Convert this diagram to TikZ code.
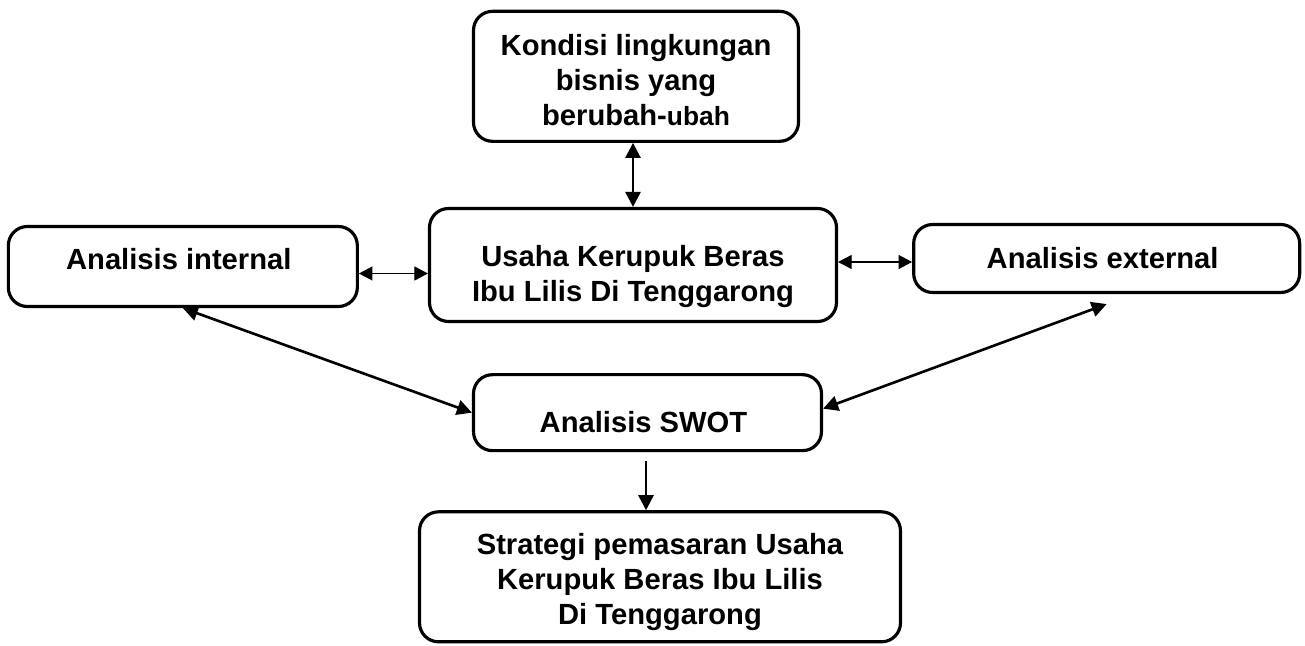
\documentclass[tikz,border=0pt]{standalone}
\usepackage{fontspec}
\setmainfont{Liberation Sans}
\usetikzlibrary{positioning, arrows.meta}

\begin{document}
\begin{tikzpicture}[ node distance=1.2cm and 1.4cm, box/.style={ rectangle, draw, line width=1.8pt, rounded corners=0.38cm, align=center, inner sep=2pt, font=\bfseries\fontsize{16.6}{20}\selectfont }, arrow/.style={ {Triangle[length=0.3cm, width=0.3cm]}-{Triangle[length=0.3cm, width=0.3cm]}, line width=1.5pt }, thinArrow/.style={ {Triangle[length=0.27cm, width=0.28cm]}-{Triangle[length=0.27cm, width=0.28cm]}, line width=0.6pt }, downArrow/.style={ -{Triangle[length=0.3cm, width=0.3cm]}, line width=1.4pt } ]
\useasboundingbox (0,0) rectangle (26.1,12.9);

% --- Kotak utama ---
\node[box, minimum width=8.14cm, minimum height=2.26cm] (usaha) at (12.66,7.6) {%
\rule{0pt}{0.88cm}Usaha Kerupuk Beras\\ Ibu Lilis Di Tenggarong };

\node[box, minimum width=6.5cm, minimum height=2.6cm, above=1.28cm of usaha, xshift=0.06cm] (kondisi) {%
\rule{0pt}{0.56cm}Kondisi lingkungan\\ bisnis yang\\ berubah-{\fontsize{15}{20}\selectfont ubah} };

\node[box, minimum width=6.98cm, minimum height=1.6cm, text depth=0.3cm, left=1.38cm of usaha, yshift=-0.03cm] (internal) {%
Analisis internal };

\node[box, minimum width=7.72cm, minimum height=1.36cm, right=1.48cm of usaha, yshift=0.13cm] (external) {%
Analisis external };

% --- Analisis dan strategi ---
\node[box, minimum width=6.96cm, minimum height=1.52cm, text height=0.78cm, below=1.0cm of usaha, xshift=0.29cm] (swot) {%
Analisis SWOT };

\node[box, minimum width=9.62cm, minimum height=2.6cm, below=1.16cm of swot, xshift=0.25cm] (strategi) {%
\rule{0pt}{0.64cm}Strategi pemasaran Usaha\\ Kerupuk Beras Ibu Lilis\\ Di Tenggarong };

% --- Hubungan ---
\draw[arrow] (usaha.north) -- (usaha.north |- kondisi.south); \draw[thinArrow] ([yshift=-0.14cm]internal.east) -- ([yshift=-0.14cm]internal.east -| usaha.west); \draw[thinArrow] ([yshift=0.06cm]usaha.east) -- ([yshift=0.06cm]usaha.east -| external.west); \draw[arrow] (internal.south) -- (swot.west); \draw[arrow] ([yshift=-0.2cm]external.south) -- ([yshift=0.08cm]swot.east); \draw[downArrow] ([yshift=-0.18cm, xshift=-0.03cm]swot.south) -- ([xshift=-0.03cm]swot.south |- strategi.north);
\end{tikzpicture}
\end{document}
